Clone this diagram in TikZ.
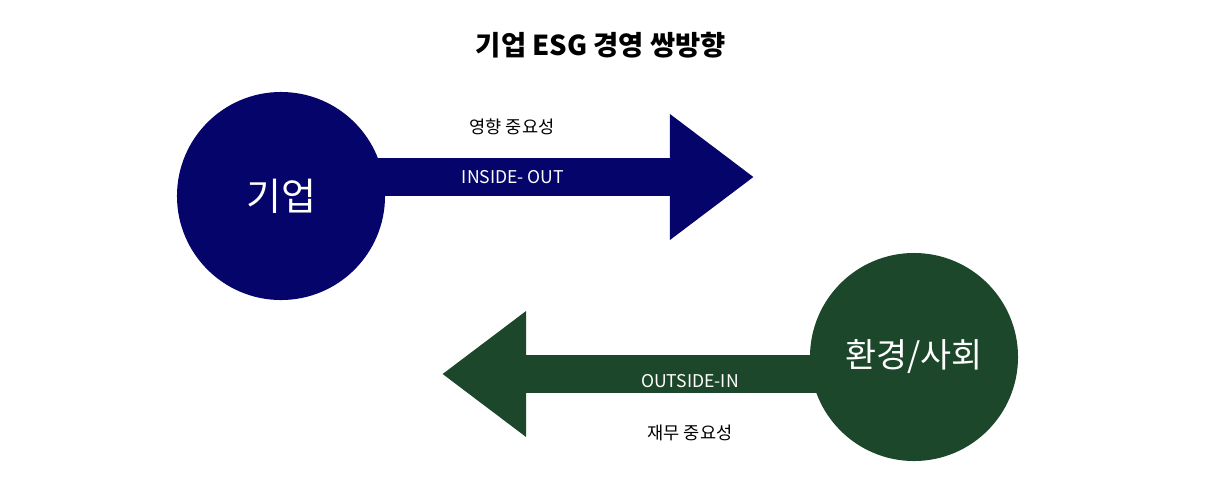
\documentclass[tikz,border=0pt]{standalone}
\usepackage{fontspec}
\newfontfamily\cjk{Noto Sans CJK KR}
\usetikzlibrary{arrows.meta}
\definecolor{corpblue}{RGB}{4,4,106}
\definecolor{envgreen}{RGB}{29,71,42}

\begin{document}
\begin{tikzpicture}[x=0.025cm,y=-0.025cm,
    orb/.style={circle,minimum size=5.2cm,inner sep=0pt,text=white,font=\cjk\fontsize{27}{27}\selectfont},
    shaft/.style={line width=0.95cm,draw=#1,-{Triangle[length=2.1cm,width=3cm]}},
    lbl/.style={font=\cjk\fontsize{12.5}{12.5}\selectfont,text=black},
    tag/.style={font=\cjk\fontsize{12.5}{12.5}\selectfont,text=white}]
    \useasboundingbox (0,0) rectangle (1224,502);

    \node[font=\cjk\bfseries\fontsize{19.5}{19.5}\selectfont] (title) at (601,45) {기업 ESG 경영 쌍방향};

    % circles
    \node[orb,fill=corpblue] (corp) at (281,196) {기업};
    \node[orb,fill=envgreen,font=\cjk\fontsize{24}{24}\selectfont] (env) at (914,357) {환경/사회};

    % block arrows
    \coordinate (outtip) at (754,177);
    \coordinate (intip) at (442,374);
    \draw[shaft=corpblue] ([xshift=-0.2cm]corp.east |- outtip) -- (outtip);
    \draw[shaft=envgreen] ([xshift=0.2cm]env.west |- intip) -- (intip);

    \node[lbl] (impact) at (512,127) {영향 중요성};
    \node[tag] (insideout) at (513,177) {INSIDE- OUT};
    \node[tag] (outsidein) at (690,381) {OUTSIDE-IN};
    \node[lbl] (finance) at (690,433) {재무 중요성};
\end{tikzpicture}
\end{document}
